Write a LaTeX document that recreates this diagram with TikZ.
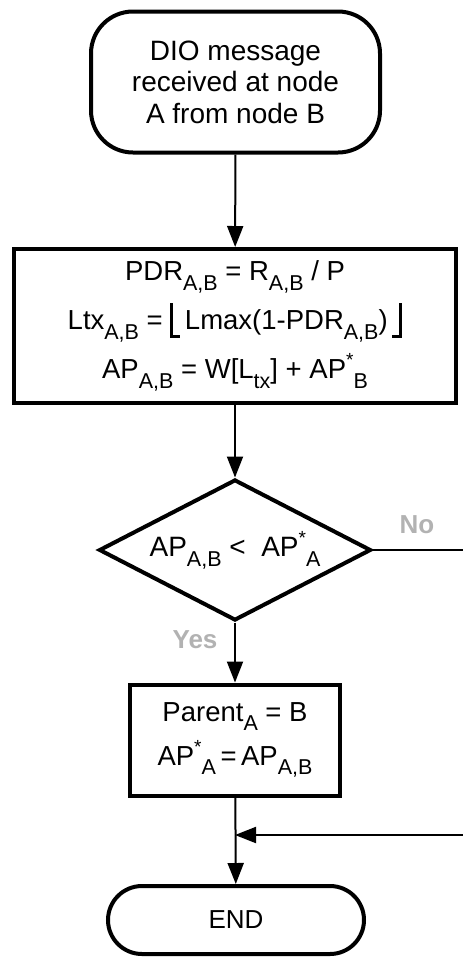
\documentclass[tikz,border=0pt]{standalone}
\usepackage{fontspec}
\setmainfont{Liberation Sans}
\usetikzlibrary{shapes.geometric,arrows.meta}

% lowered and raised indices in text
\newcommand{\subtx}[1]{\raisebox{-0.34em}{\fontsize{21.5}{21.5}\selectfont #1}}
\newcommand{\suptx}{\raisebox{0.45em}{\fontsize{19}{19}\selectfont *}}
% floor brackets
\newcommand{\lfloortx}{\rule[-8pt]{3pt}{35pt}\rule[-8pt]{7pt}{3pt}}
\newcommand{\rfloortx}{\rule[-8pt]{7pt}{3pt}\rule[-8pt]{3pt}{35pt}}

\begin{document}
\begin{tikzpicture}[x=1pt,y=1pt,
    terminal/.style={draw, line width=4pt, rounded corners=#1, inner sep=0pt, align=center},
    process/.style={draw, line width=4pt, inner sep=0pt, align=center},
    decision/.style={diamond, aspect=1.9, draw, line width=4pt, inner sep=0pt, align=center},
    arrow/.style={line width=2pt, -{Triangle[length=21pt,width=16pt]}},
    answer/.style={text=black!30, font=\fontsize{26}{26}\selectfont\bfseries}]
        \useasboundingbox (0,0) rectangle (463,-959);

        \node[terminal=42, minimum width=289, minimum height=141,
            font=\fontsize{28}{31.5}\selectfont] (dio) at (235.5,-82)
            {DIO message\\received at node\\A from node B};
        \node[process, minimum width=442, minimum height=154,
            font=\fontsize{27.5}{49}\selectfont] (metric) at (235,-326)
            {PDR\subtx{A,B} = R\subtx{A,B} / P\\
             Ltx\subtx{A,B} = \lfloortx\,Lmax(1-PDR\subtx{A,B})\,\rfloortx\\
             AP\subtx{A,B} = W[L\subtx{tx}] + AP\suptx\subtx{B}};
        \node[decision, minimum width=272, minimum height=141,
            font=\fontsize{28}{28}\selectfont] (cmp) at (235,-550)
            {AP\subtx{A,B} <\ \ AP\suptx\subtx{A}};
        \node[process, minimum width=210, minimum height=111,
            font=\fontsize{27.5}{44}\selectfont] (parent) at (235,-740)
            {Parent\subtx{A} = B\\AP\suptx\subtx{A}\,=\,AP\subtx{A,B}};
        \node[terminal=34, minimum width=256, minimum height=68,
            font=\fontsize{26}{26}\selectfont] (end) at (236,-920) {END};

        \coordinate (noend) at (463,-550);
        \coordinate (back) at (463,-835);

        \draw[arrow] (dio) -- (metric);
        \draw[arrow] (metric) -- (cmp);
        \draw[arrow] (cmp) -- (parent);
        \draw[line width=2pt] (cmp.east) -- (noend);
        \draw[arrow] (parent) -- (end);
        \draw[arrow] (back) -- (back -| parent.south);

        \node[answer] (no) at (417,-525) {No};
        \node[answer] (yes) at (195,-640) {Yes};
    \end{tikzpicture}
\end{document}
